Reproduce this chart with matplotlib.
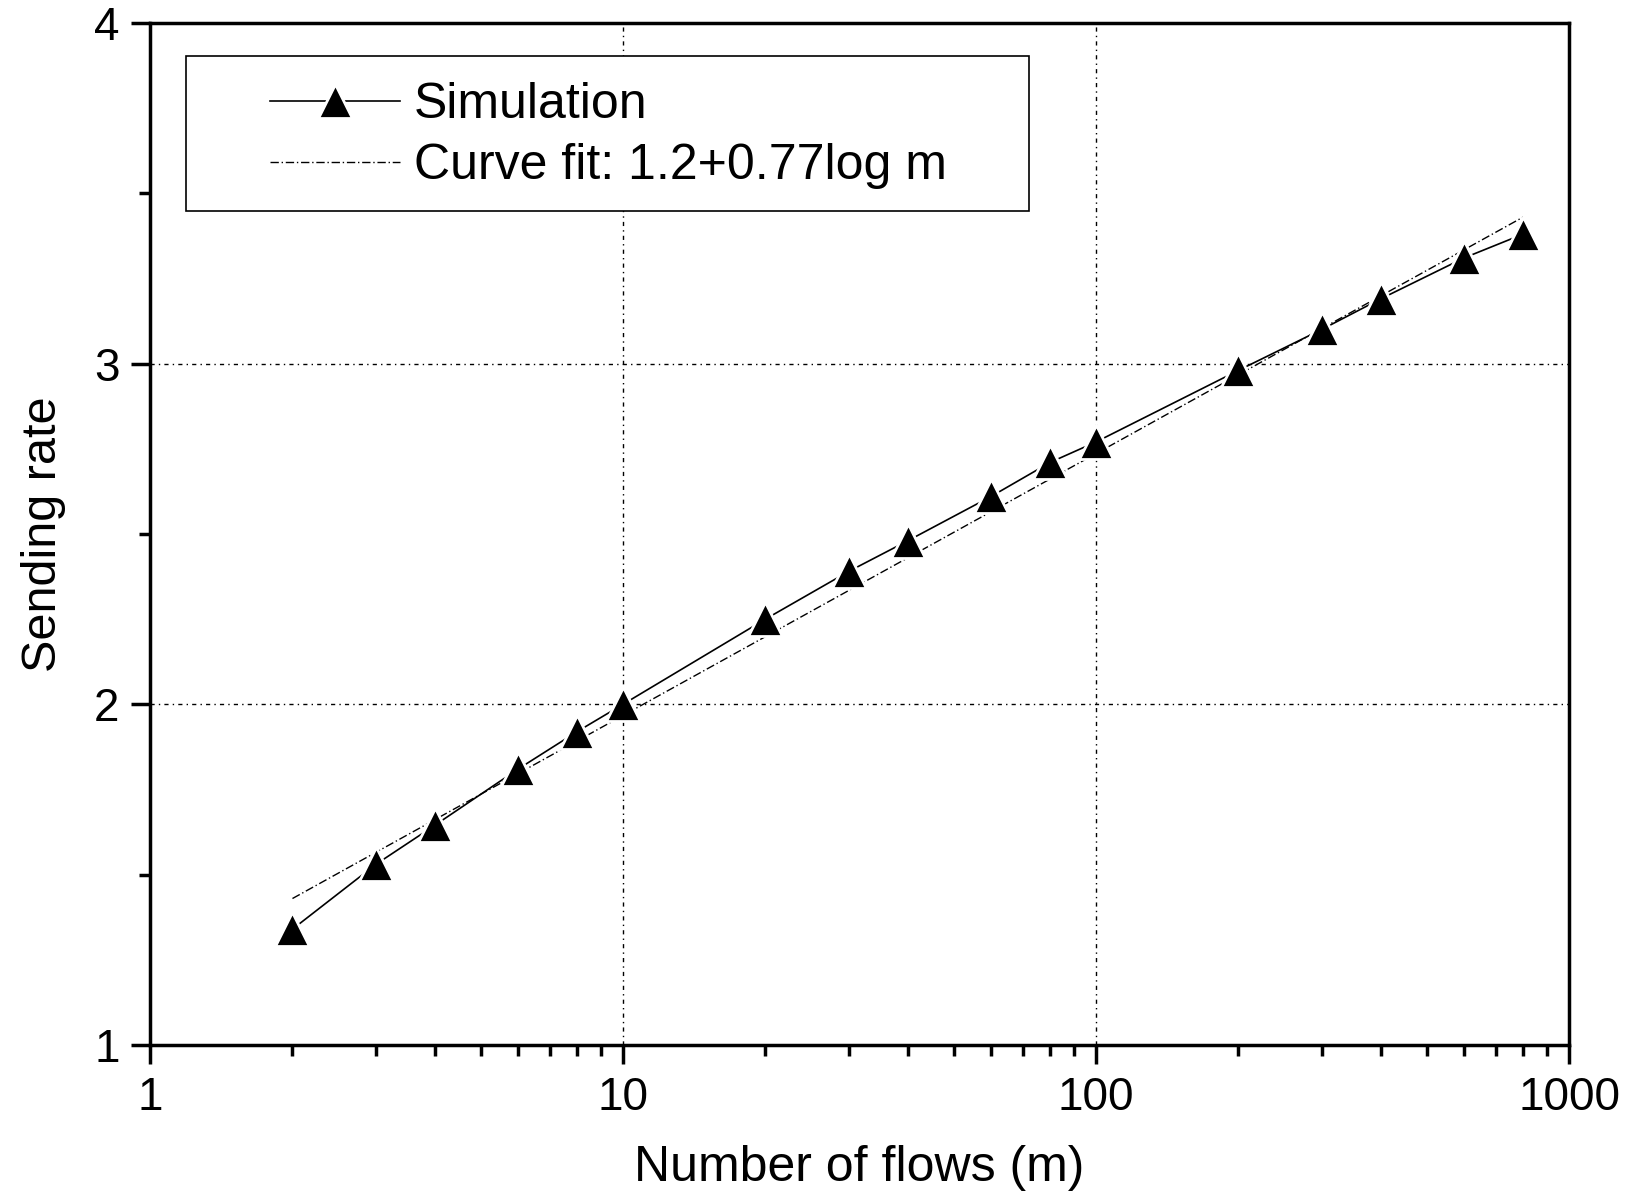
import numpy as np
import matplotlib.pyplot as plt
from matplotlib.patches import Rectangle
from matplotlib.ticker import FixedLocator, NullFormatter, LogLocator

plt.rcParams['font.family'] = ['Liberation Sans', 'DejaVu Sans']

# Simulation data
m_sim = [2, 3, 4, 6, 8, 10, 20, 30, 40, 60, 80, 100, 200, 300, 400, 600, 800]
rate_sim = [1.34, 1.53, 1.645, 1.81, 1.92, 2.00, 2.25, 2.39, 2.48, 2.61,
            2.71, 2.77, 2.98, 3.10, 3.19, 3.31, 3.38]

# Curve fit end points, 1.2+0.77log m
m_fit = [2, 800]
rate_fit = [1.43, 3.43]

fig = plt.figure(figsize=(16.26, 11.99), dpi=100)
ax = fig.add_axes([0.0923, 0.1284, 0.8727, 0.8526])

ax.plot(m_fit, rate_fit, color='black', lw=1.0, ls=(0, (6, 2, 1, 2)),
        label='Curve fit: 1.2+0.77log m')
ax.plot(m_sim, rate_sim, color='black', lw=1.2, marker='^', ms=24,
        mfc='black', mec='white', mew=2, label='Simulation')

ax.set_xscale('log')
ax.set_xlim(1, 1000)
ax.set_ylim(1, 4)
ax.set_xticks([1, 10, 100, 1000])
ax.set_xticklabels(['1', '10', '100', '1000'])
ax.xaxis.set_minor_locator(LogLocator(base=10, subs=np.arange(2, 10)))
ax.xaxis.set_minor_formatter(NullFormatter())
ax.set_yticks([1, 2, 3, 4])
ax.yaxis.set_minor_locator(FixedLocator([1.5, 2.5, 3.5]))

# grid only at inner decades / values
for xv in [10, 100]:
    ax.axvline(xv, color='black', lw=1.0, ls=(0, (3, 3, 1, 3)), zorder=0)
for yv in [2, 3]:
    ax.axhline(yv, color='black', lw=1.0, ls=(0, (3, 3, 1, 3)), zorder=0)

for s in ax.spines.values():
    s.set_linewidth(2.5)
ax.tick_params(which='major', direction='out', length=14, width=2.5,
               labelsize=33, pad=8)
ax.tick_params(which='minor', direction='out', length=8, width=2.5)

ax.set_xlabel('Number of flows (m)', fontsize=36, labelpad=18)
ax.set_ylabel('Sending rate', fontsize=35, labelpad=20)

# legend frame drawn as its own box, legend entries inside it
ax.add_patch(Rectangle((0.0256, 0.8154), 0.5935, 0.1521, transform=ax.transAxes,
                       facecolor='white', edgecolor='black', lw=1.2, zorder=4))
h, l = ax.get_legend_handles_labels()
leg = ax.legend(h[::-1], l[::-1], loc='upper left',
                bbox_to_anchor=(0.0846, 0.942), frameon=False, fontsize=36,
                handlelength=2.6, handletextpad=0.27, labelspacing=0.3,
                borderpad=0, borderaxespad=0)
leg.set_zorder(5)

fig.savefig('out.png', dpi=100)
